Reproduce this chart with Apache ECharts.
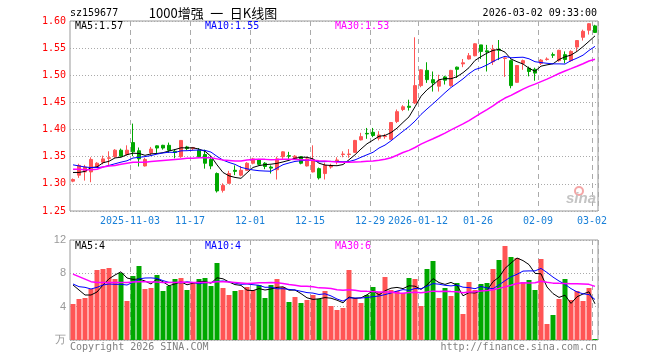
<!DOCTYPE html>
<html><head><meta charset="utf-8">
<script src="https://cdn.jsdelivr.net/npm/echarts@6/dist/echarts.min.js"></script>
<style>html,body{margin:0;padding:0;background:#fff}#c{width:660px;height:360px}</style>
</head><body><div id="c"></div>
<script>
const dates = [
'2025-10-20','2025-10-21','2025-10-22','2025-10-23','2025-10-24','2025-10-27','2025-10-28','2025-10-29','2025-10-30','2025-10-31',
'2025-11-03','2025-11-04','2025-11-05','2025-11-06','2025-11-07','2025-11-10','2025-11-11','2025-11-12','2025-11-13','2025-11-14',
'2025-11-17','2025-11-18','2025-11-19','2025-11-20','2025-11-21','2025-11-24','2025-11-25','2025-11-26','2025-11-27','2025-11-28',
'2025-12-01','2025-12-02','2025-12-03','2025-12-04','2025-12-05','2025-12-08','2025-12-09','2025-12-10','2025-12-11','2025-12-12',
'2025-12-15','2025-12-16','2025-12-17','2025-12-18','2025-12-19','2025-12-22','2025-12-23','2025-12-24','2025-12-25','2025-12-26',
'2025-12-29','2025-12-30','2025-12-31','2026-01-05','2026-01-06','2026-01-07','2026-01-08','2026-01-09',
'2026-01-12','2026-01-13','2026-01-14','2026-01-15','2026-01-16','2026-01-19','2026-01-20','2026-01-21','2026-01-22','2026-01-23',
'2026-01-26','2026-01-27','2026-01-28','2026-01-29','2026-01-30','2026-02-02','2026-02-03','2026-02-04','2026-02-05','2026-02-06',
'2026-02-09','2026-02-10','2026-02-11','2026-02-12','2026-02-13','2026-02-24','2026-02-25','2026-02-26','2026-02-27','2026-03-02'];

const tickDates = ['2025-11-03','2025-11-17','2025-12-01','2025-12-15','2025-12-29','2026-01-12','2026-01-26','2026-02-09','2026-03-02'];
const tickLabels = ['2025-11-03','11-17','12-01','12-15','12-29','2026-01-12','01-26','02-09','03-02'];

const opens = [
1.305,1.316,1.322,1.322,1.332,1.340,1.347,1.350,1.362,1.354,
1.376,1.361,1.333,1.357,1.370,1.371,1.371,1.360,1.350,1.368,
1.365,1.362,1.354,1.345,1.319,1.288,1.301,1.325,1.316,1.325,
1.338,1.344,1.338,1.331,1.326,1.350,1.352,1.346,1.350,1.333,
1.322,1.328,1.319,1.331,1.342,1.354,1.354,1.358,1.381,1.393,
1.395,1.384,1.387,1.382,1.415,1.437,1.443,1.449,1.481,1.509,
1.492,1.480,1.497,1.481,1.515,1.521,1.530,1.536,1.556,1.545,
1.525,1.548,1.531,1.527,1.487,1.522,1.513,1.511,1.522,1.529,
1.538,1.527,1.538,1.527,1.552,1.570,1.583,1.591];
const closes = [
1.308,1.334,1.331,1.345,1.338,1.346,1.348,1.362,1.351,1.362,
1.359,1.346,1.345,1.364,1.366,1.366,1.362,1.358,1.380,1.365,
1.367,1.350,1.338,1.333,1.287,1.297,1.319,1.323,1.325,1.338,
1.346,1.336,1.332,1.329,1.346,1.359,1.351,1.351,1.338,1.346,
1.344,1.311,1.334,1.334,1.344,1.355,1.355,1.380,1.387,1.392,
1.389,1.390,1.388,1.413,1.433,1.442,1.441,1.481,1.510,1.492,
1.486,1.490,1.491,1.509,1.511,1.523,1.536,1.558,1.544,1.543,
1.548,1.546,1.532,1.481,1.518,1.527,1.507,1.504,1.528,1.530,
1.537,1.546,1.529,1.544,1.564,1.581,1.595,1.579];
const lows = [
1.303,1.311,1.306,1.303,1.330,1.336,1.333,1.348,1.350,1.352,
1.351,1.332,1.332,1.352,1.357,1.363,1.357,1.347,1.348,1.362,
1.362,1.348,1.328,1.327,1.284,1.284,1.301,1.316,1.314,1.324,
1.336,1.334,1.327,1.319,1.308,1.346,1.346,1.345,1.336,1.332,
1.321,1.308,1.308,1.328,1.336,1.349,1.348,1.357,1.380,1.383,
1.386,1.380,1.383,1.381,1.412,1.434,1.435,1.447,1.478,1.486,
1.470,1.470,1.483,1.479,1.495,1.515,1.529,1.535,1.530,1.507,
1.519,1.528,1.497,1.476,1.486,1.510,1.498,1.490,1.519,1.527,
1.532,1.525,1.522,1.525,1.544,1.564,1.575,1.578];
const highs = [
1.310,1.337,1.335,1.349,1.340,1.352,1.360,1.364,1.365,1.371,
1.411,1.367,1.348,1.368,1.371,1.372,1.376,1.364,1.380,1.370,
1.368,1.366,1.363,1.351,1.321,1.301,1.324,1.334,1.333,1.340,
1.348,1.346,1.340,1.334,1.350,1.360,1.359,1.353,1.351,1.350,
1.371,1.330,1.339,1.337,1.349,1.360,1.364,1.381,1.394,1.403,
1.403,1.397,1.392,1.414,1.437,1.445,1.455,1.570,1.511,1.524,
1.507,1.501,1.499,1.510,1.516,1.530,1.541,1.559,1.556,1.556,
1.556,1.565,1.533,1.529,1.519,1.529,1.516,1.514,1.530,1.533,
1.542,1.547,1.544,1.546,1.565,1.584,1.596,1.593];
const volumes = [
4.32,4.92,5.04,6.12,8.40,8.52,8.64,7.32,8.04,4.68,
7.68,8.88,6.12,6.24,7.80,5.88,6.48,7.32,7.44,6.00,
6.84,7.32,7.44,6.48,9.24,6.24,5.40,5.88,6.00,6.36,
6.00,6.60,5.04,6.60,7.32,6.36,4.56,5.16,4.44,4.80,
5.40,4.92,5.88,4.08,3.60,3.84,8.40,5.04,4.44,5.40,
6.36,5.76,7.56,6.00,5.88,5.64,7.44,7.32,4.08,8.52,
9.48,5.04,6.24,5.28,6.84,3.12,6.96,6.00,6.72,6.84,
8.52,9.60,11.28,9.96,9.84,6.96,7.20,6.00,9.72,1.92,
3.00,4.92,7.32,4.80,5.88,4.68,6.24,0.12];

// moving-average values at the left edge (window not yet full)
const ma5Head = [1.321,1.321,1.323,1.330];
const ma10Head = [1.335,1.333,1.331,1.330,1.330,1.331,1.334,1.337,1.340];
const ma30Head = [1.327,1.327,1.326,1.326,1.327,1.331,1.333,1.334,1.336,1.338,
  1.340,1.340,1.340,1.341,1.342,1.343,1.344,1.345,1.346,1.347,
  1.347,1.348,1.348,1.348,1.346,1.344,1.343,1.342,1.342];
const vma5Head = [6.6,6.0,5.4,5.4];
const vma10Head = [6.72,6.4,6.32,6.12,6.32,6.6,6.72,6.68,6.68];
const vma30Head = [7.9,7.6,7.3,7.0,6.9,6.9,6.9,6.9,6.9,6.9,
  6.95,7.0,7.0,6.95,6.95,6.9,6.9,6.9,6.95,6.9,
  6.9,6.9,6.9,6.9,7.0,7.0,6.95,6.9,6.85];

const UP = '#ff5555', DOWN = '#00a800';
const MONO = "'DejaVu Sans Mono', monospace";

function ma(arr, n, head) {
  return arr.map(function (v, i) {
    if (i < n - 1) return head[i];
    let s = 0;
    for (let k = i - n + 1; k <= i; k++) s += arr[k];
    return +(s / n).toFixed(4);
  });
}

const tickIdx = {};
tickDates.forEach(function (d, k) { tickIdx[d] = tickLabels[k]; });
const showTick = function (idx, val) { return tickIdx[val] !== undefined; };

const chart = echarts.init(document.getElementById('c'), null, {renderer: 'canvas'});
const gridLine = {show: true, interval: showTick, lineStyle: {color: '#aaaaaa', type: [5, 4], width: 1}};

chart.setOption({
  animation: false,
  backgroundColor: '#ffffff',
  grid: [
    {left: 70, top: 21, width: 528, height: 190, show: true, borderColor: '#999999', borderWidth: 1},
    {left: 70, top: 240, width: 528, height: 100, show: true, borderColor: '#999999', borderWidth: 1}
  ],
  xAxis: [
    {type: 'category', gridIndex: 0, data: dates, boundaryGap: true,
     axisLine: {show: false}, axisTick: {show: false},
     axisLabel: {interval: showTick, formatter: function (v) { return tickIdx[v] || ''; },
       color: '#1a80d8', fontFamily: MONO, fontSize: 10, margin: 5, padding: [0, 6, 0, 0]},
     splitLine: gridLine},
    {type: 'category', gridIndex: 1, data: dates, boundaryGap: true,
     axisLine: {show: false}, axisTick: {show: false}, axisLabel: {show: false},
     splitLine: gridLine}
  ],
  yAxis: [
    {type: 'value', gridIndex: 0, min: 1.25, max: 1.60, interval: 0.05,
     axisLine: {show: false}, axisTick: {show: false},
     axisLabel: {color: '#ff0000', fontFamily: MONO, fontSize: 10, margin: 4,
       formatter: function (v) { return v.toFixed(2); }},
     splitLine: {show: true, lineStyle: {color: '#aaaaaa', type: [1, 2], width: 1}}},
    {type: 'value', gridIndex: 1, min: 0, max: 12, interval: 4,
     axisLine: {show: false}, axisTick: {show: false},
     axisLabel: {color: '#999999', fontFamily: "'Liberation Sans', sans-serif", fontSize: 11, margin: 4,
       formatter: function (v) { return v === 0 ? '万' : String(v); }},
     splitLine: {show: true, lineStyle: {color: '#aaaaaa', type: [1, 2], width: 1}}}
  ],
  series: [
    {type: 'candlestick', xAxisIndex: 0, yAxisIndex: 0, barWidth: 4,
     data: dates.map(function (d, i) { return [opens[i], closes[i], lows[i], highs[i]]; }),
     itemStyle: {color: UP, color0: DOWN, borderColor: UP, borderColor0: DOWN, borderWidth: 1}},
    {type: 'line', xAxisIndex: 0, yAxisIndex: 0, data: ma(closes, 5, ma5Head), symbol: 'none',
     lineStyle: {color: '#000000', width: 1}},
    {type: 'line', xAxisIndex: 0, yAxisIndex: 0, data: ma(closes, 10, ma10Head), symbol: 'none',
     lineStyle: {color: '#0000ff', width: 1}},
    {type: 'line', xAxisIndex: 0, yAxisIndex: 0, data: ma(closes, 30, ma30Head), symbol: 'none',
     lineStyle: {color: '#ff00ff', width: 1.5}},
    {type: 'bar', xAxisIndex: 1, yAxisIndex: 1, barWidth: 5,
     data: volumes.map(function (v, i) {
       return {value: v, itemStyle: {color: closes[i] >= opens[i] ? UP : DOWN}};
     })},
    {type: 'line', xAxisIndex: 1, yAxisIndex: 1, data: ma(volumes, 5, vma5Head), symbol: 'none',
     lineStyle: {color: '#000000', width: 1}},
    {type: 'line', xAxisIndex: 1, yAxisIndex: 1, data: ma(volumes, 10, vma10Head), symbol: 'none',
     lineStyle: {color: '#0000ff', width: 1}},
    {type: 'line', xAxisIndex: 1, yAxisIndex: 1, data: ma(volumes, 30, vma30Head), symbol: 'none',
     lineStyle: {color: '#ff00ff', width: 1.5}}
  ],
  graphic: [
    {type: 'text', z: 100, style: {x: 70, y: 13, text: 'sz159677', font: '10px ' + MONO, fill: '#000', verticalAlign: 'middle'}},
    {type: 'text', z: 100, style: {x: 213, y: 13, text: '1000增强\u2002一\u2002日K线图', font: "13px 'Noto Sans CJK SC'", fill: '#000', align: 'center', verticalAlign: 'middle'}},
    {type: 'text', z: 100, style: {x: 597, y: 13, text: '2026-03-02 09:33:00', font: '10px ' + MONO, fill: '#000', align: 'right', verticalAlign: 'middle'}},
    {type: 'text', z: 100, style: {x: 75, y: 26, text: 'MA5:1.57', font: '10px ' + MONO, fill: '#000', verticalAlign: 'middle'}},
    {type: 'text', z: 100, style: {x: 205, y: 26, text: 'MA10:1.55', font: '10px ' + MONO, fill: '#0000ff', verticalAlign: 'middle'}},
    {type: 'text', z: 100, style: {x: 335, y: 26, text: 'MA30:1.53', font: '10px ' + MONO, fill: '#ff00ff', verticalAlign: 'middle'}},
    {type: 'text', z: 100, style: {x: 75, y: 246, text: 'MA5:4', font: '10px ' + MONO, fill: '#000', verticalAlign: 'middle'}},
    {type: 'text', z: 100, style: {x: 205, y: 246, text: 'MA10:4', font: '10px ' + MONO, fill: '#0000ff', verticalAlign: 'middle'}},
    {type: 'text', z: 100, style: {x: 335, y: 246, text: 'MA30:6', font: '10px ' + MONO, fill: '#ff00ff', verticalAlign: 'middle'}},
    {type: 'text', z: 100, style: {x: 70, y: 347, text: 'Copyright 2026 SINA.COM', font: '10px ' + MONO, fill: '#808080', verticalAlign: 'middle'}},
    {type: 'text', z: 100, style: {x: 597, y: 347, text: 'http://finance.sina.com.cn', font: '10px ' + MONO, fill: '#808080', align: 'right', verticalAlign: 'middle'}},
    {type: 'circle', z: 5, shape: {cx: 579, cy: 191, r: 4}, style: {fill: 'none', stroke: '#f4a6a6', lineWidth: 2}},
    {type: 'text', z: 5, style: {x: 581, y: 199, text: 'sina', font: "italic bold 15px 'Liberation Sans'", fill: '#c4c4c4', align: 'center', verticalAlign: 'middle'}}
  ]
});
</script>
</body></html>
